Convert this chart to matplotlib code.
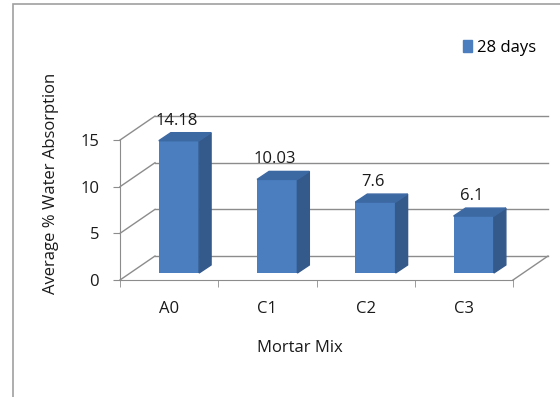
import matplotlib
matplotlib.use("Agg")
import matplotlib.pyplot as plt
from matplotlib.patches import Polygon, Rectangle, Patch

mixes = ["A0", "C1", "C2", "C3"]
absorption = [14.18, 10.03, 7.6, 6.1]
value_labels = ["14.18", "10.03", "7.6", "6.1"]
y_ticks = [0, 5, 10, 15]
series_name = "28 days"

plt.rcParams['font.family'] = ['Open Sans', 'DejaVu Sans']

front = '#4a7ebf'
side = '#34598b'
top = '#3d69a3'
grid = '#8c8c8c'
txt = '#1a1a1a'
fs = 12

# fake 3d offsets in data units
back_dx, back_dy = 0.356, 2.57
bar_dx, bar_dy = 0.1, 0.75
depth_dx, depth_dy = 0.122, 0.86
bar_w = 0.41

fig = plt.figure(figsize=(5.6, 3.97), dpi=100)
ax = fig.add_axes([120 / 560, 1 - 280 / 397, 428 / 560, 164.2 / 397])
ax.set_xlim(-0.5, 3.5 + back_dx)
ax.set_ylim(0, 17.6)

# walls
x0, x1 = -0.5, len(mixes) - 0.5
for v in y_ticks:
    ax.plot([x0 + back_dx, x1 + back_dx], [v + back_dy, v + back_dy],
            color=grid, lw=1, zorder=1, clip_on=False)
    ax.plot([x0, x0 + back_dx], [v, v + back_dy], color=grid, lw=1,
            zorder=1, clip_on=False)
ax.plot([x1, x1 + back_dx], [0, back_dy], color=grid, lw=1, zorder=1,
        clip_on=False)

# bars
for i, v in enumerate(absorption):
    xl = i + bar_dx - bar_w / 2
    xr = xl + bar_w
    b = bar_dy
    ax.bar(xl, v, width=bar_w, bottom=b, align='edge', color=front,
           zorder=3)
    ax.add_patch(Polygon([(xr, b), (xr + depth_dx, b + depth_dy),
                          (xr + depth_dx, b + v + depth_dy), (xr, b + v)],
                         closed=True, color=side, zorder=3))
    ax.add_patch(Polygon([(xl, b + v), (xr, b + v),
                          (xr + depth_dx, b + v + depth_dy),
                          (xl + depth_dx, b + v + depth_dy)],
                         closed=True, color=top, zorder=3))
    ax.text(i + bar_dx - 0.02, b + v + depth_dy + 1.3, value_labels[i],
            ha='center', va='center', fontsize=fs, color=txt, zorder=4)

for s in ['top', 'right']:
    ax.spines[s].set_visible(False)
ax.spines['left'].set_bounds(0, 15)
ax.spines['bottom'].set_bounds(x0, x1)
ax.spines['left'].set_color(grid)
ax.spines['bottom'].set_color(grid)
ax.set_yticks(y_ticks)
ax.set_yticklabels([str(t) for t in y_ticks])
ax.tick_params(axis='y', length=5, color=grid, labelsize=fs, pad=10,
               labelcolor=txt)
ax.set_xticks(range(len(mixes)))
ax.set_xticklabels(mixes)
ax.set_xticks([x0 + k for k in range(len(mixes) + 1)], minor=True)
ax.tick_params(axis='x', which='major', length=0, pad=15, labelsize=fs,
               labelcolor=txt)
ax.tick_params(axis='x', which='minor', length=5, color=grid)

fig.text(300 / 560, 1 - 348 / 397, "Mortar Mix", ha='center', va='center',
         fontsize=fs, color=txt)
fig.text(51 / 560, 1 - 183 / 397, "Average % Water Absorption",
         rotation=90, ha='center', va='center', fontsize=fs, color=txt)

fig.legend(handles=[Patch(color=front, label=series_name)],
           loc='center left', bbox_to_anchor=(463 / 560, 1 - 48 / 397),
           frameon=False, handlelength=0.55, handleheight=0.7,
           handletextpad=0.3, borderpad=0, borderaxespad=0, fontsize=fs)

fig.patches.append(Rectangle((13 / 560, -0.1), 1.0, 1.1 - 4 / 397,
                             transform=fig.transFigure, fill=False,
                             edgecolor='#a0a0a0', lw=1.2))

fig.savefig("out.png", dpi=100)
